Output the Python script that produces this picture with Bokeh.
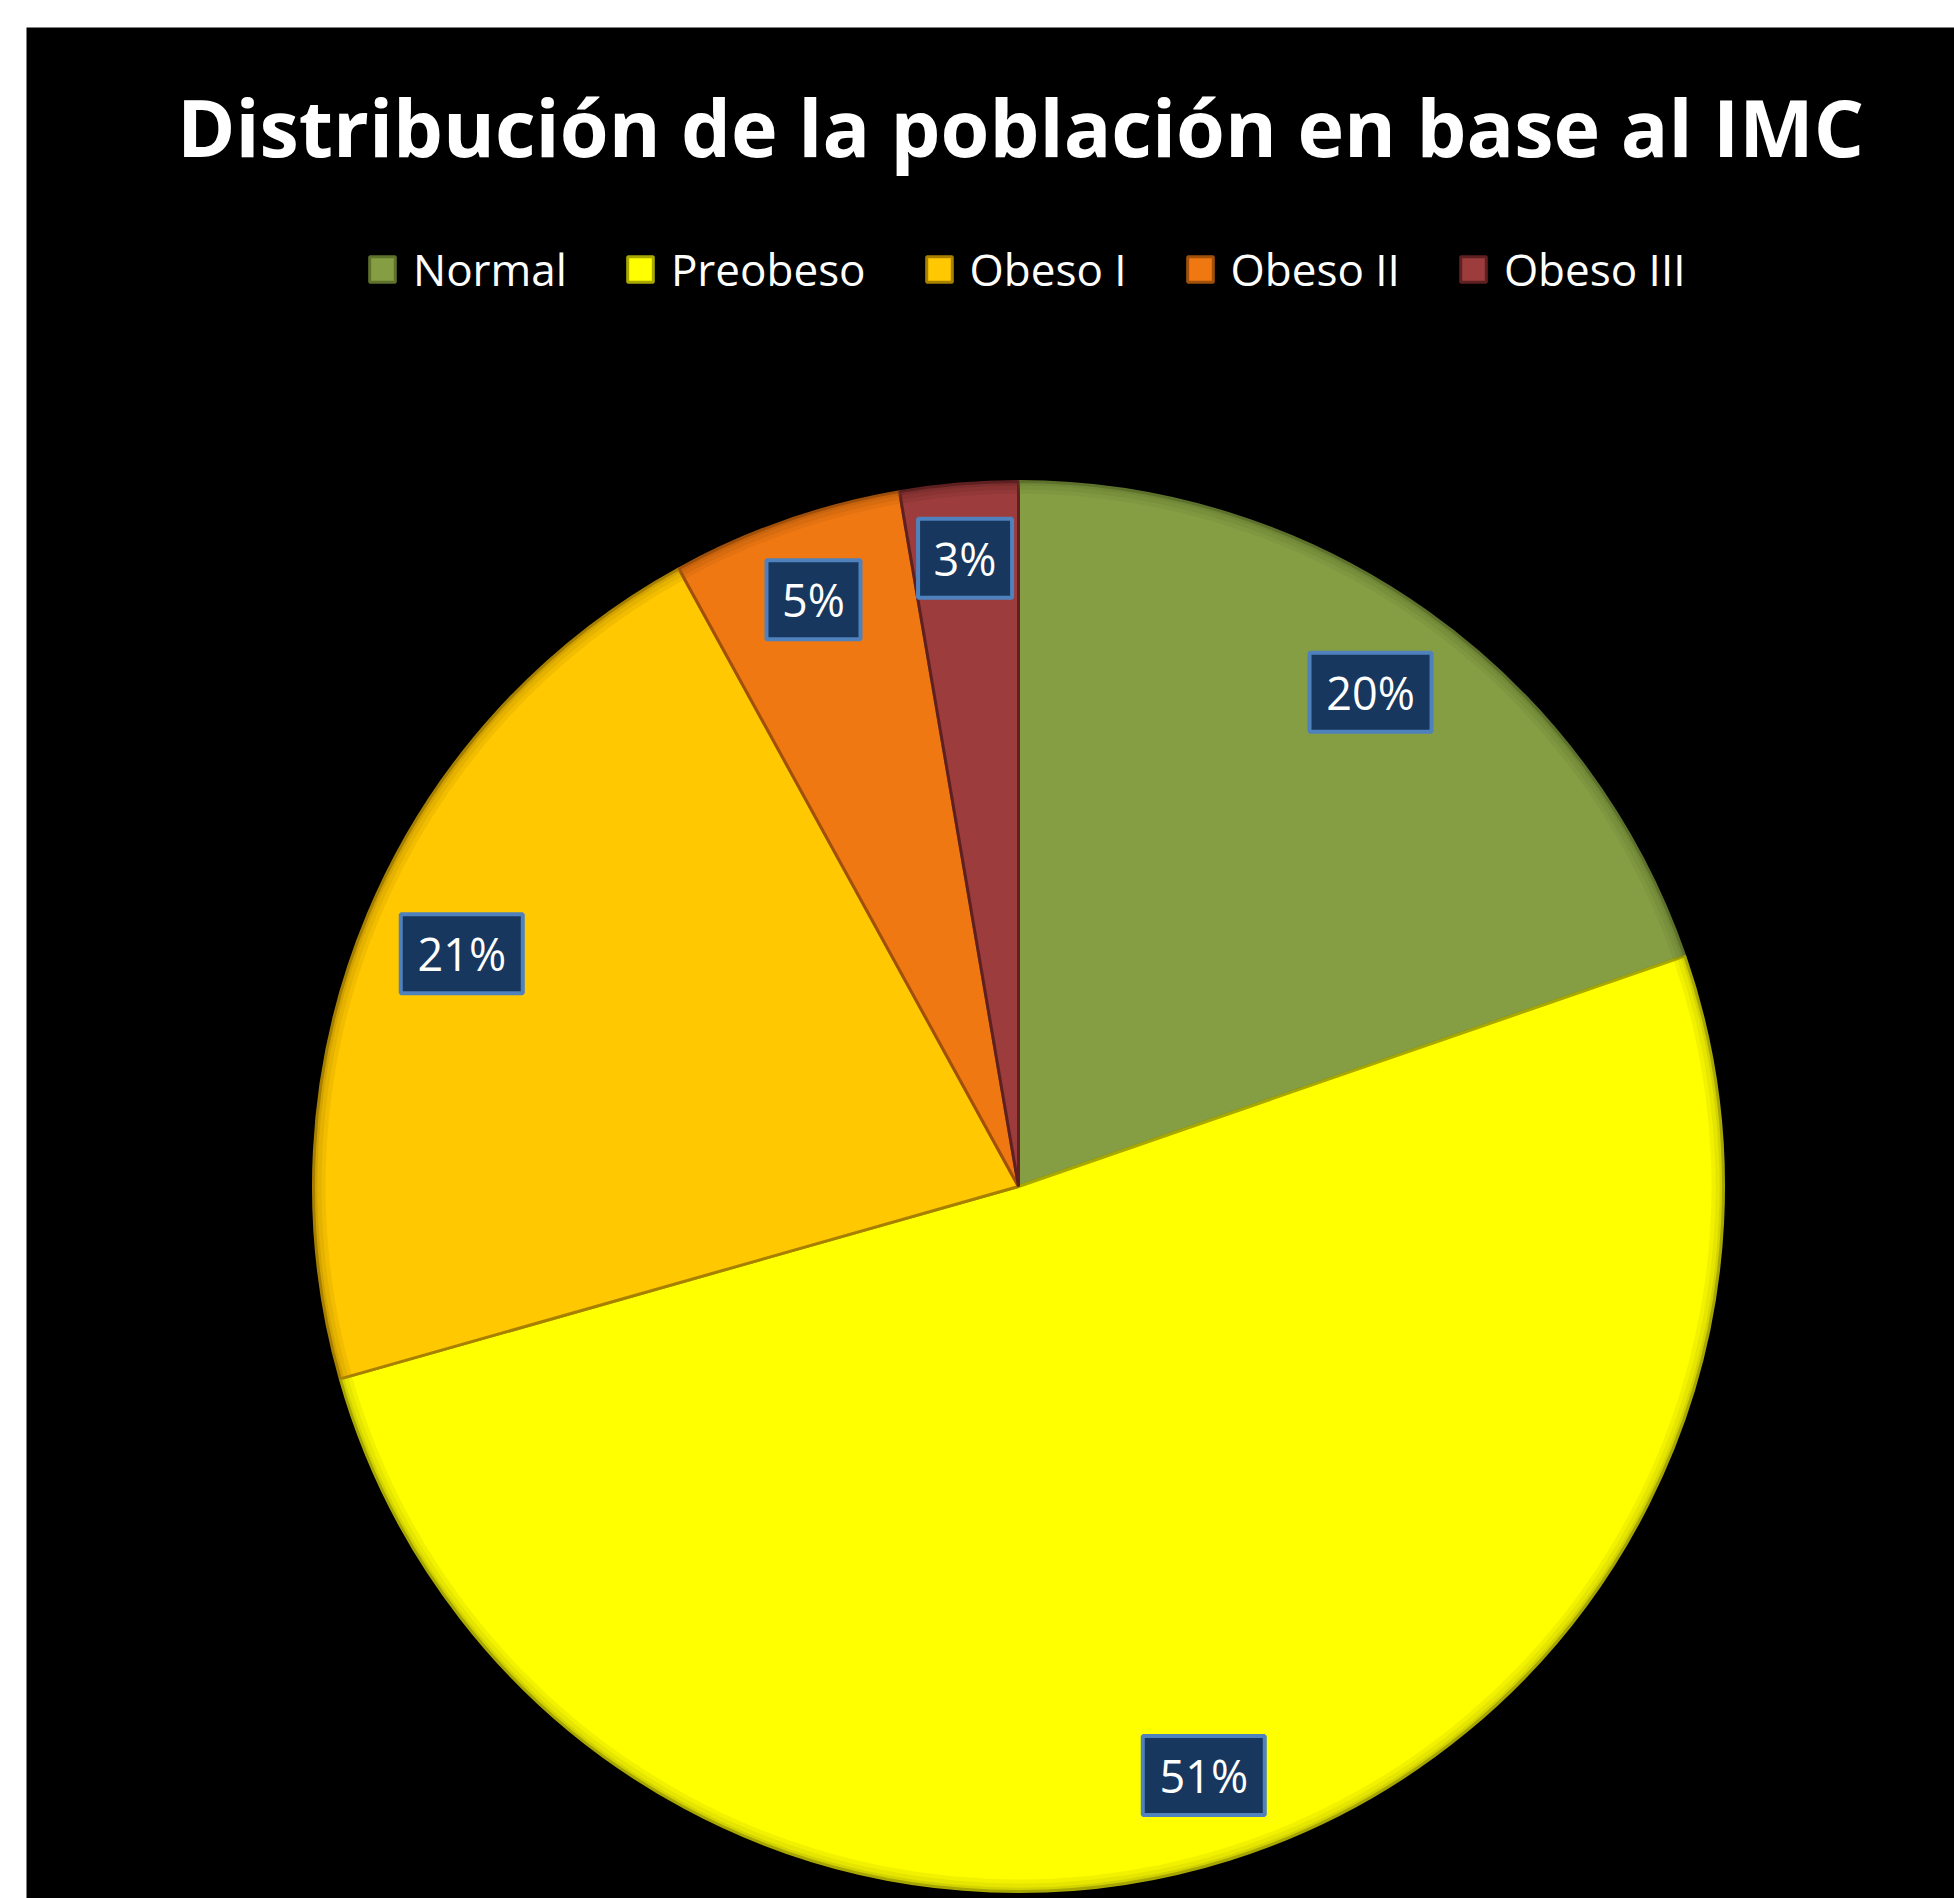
import math
from bokeh.plotting import figure
from bokeh.models import Range1d, ColumnDataSource, Legend, LegendItem, Label
from bokeh.core.properties import value
from bokeh.embed import file_html
from bokeh.resources import INLINE

# ---- data ----
categories = ["Normal", "Preobeso", "Obeso I", "Obeso II", "Obeso III"]
shares = [19.7, 50.9, 21.4, 5.3, 2.7]
colors = ["#859E44", "#FFFF00", "#FFC800", "#F07812", "#9C3C3C"]
edge_colors = ["#5E722C", "#A8A800", "#A88000", "#A0500A", "#5E2020"]
title_text = "Distribución de la población en base al IMC"

# ---- geometry (frame pixels, y up) ----
W, H = 1954, 1898
LEFT, TOP = 26, 27
FW, FH = W - LEFT, H - TOP
CX, CY, R = 992, 712, 705

total = sum(shares)
starts, ends, mids = [], [], []
acc = 0.0
for v in shares:
    a0 = math.pi / 2 - 2 * math.pi * acc / total
    acc += v
    a1 = math.pi / 2 - 2 * math.pi * acc / total
    starts.append(a0)
    ends.append(a1)
    mids.append((a0 + a1) / 2)

labels = [f"{round(v / total * 100)}%" for v in shares]
bw = [97 if len(t) == 2 else 125 for t in labels]
BH = 82
RHO = R - 28  # farthest box corner sits on this radius ("inside end")
lx, ly = [], []
for m, w in zip(mids, bw):
    ux, uy = math.cos(m), math.sin(m)
    cx_, cy_ = math.copysign(w / 2, ux), math.copysign(BH / 2, uy)
    uc = ux * cx_ + uy * cy_
    t = -uc + math.sqrt(uc * uc - (cx_ ** 2 + cy_ ** 2) + RHO ** 2)
    lx.append(CX + t * ux)
    ly.append(CY + t * uy)

src = ColumnDataSource(dict(cat=categories, start=starts, end=ends, color=colors,
                            edge=edge_colors, lx=lx, ly=ly, lab=labels,
                            bw=[w - 3 for w in bw]))

p = figure(width=W, height=H, output_backend="svg", toolbar_location=None,
           x_range=Range1d(0, FW), y_range=Range1d(0, FH),
           x_axis_location=None, y_axis_location=None,
           min_border_left=LEFT, min_border_top=TOP, min_border_right=0, min_border_bottom=0)
p.background_fill_color = "black"
p.border_fill_color = "white"
p.outline_line_color = None
p.grid.visible = False

wedges = p.wedge(x=CX, y=CY, radius=R, start_angle="start", end_angle="end",
                 direction="clock", fill_color="color", line_color="edge",
                 line_width=3, source=src)

# soft darker rim
for inner, alpha in [(R - 12, 0.15), (R - 8, 0.3), (R - 4, 0.5)]:
    p.annular_wedge(x=CX, y=CY, inner_radius=inner, outer_radius=inner + 4,
                    start_angle="start", end_angle="end", direction="clock",
                    fill_color="edge", fill_alpha=alpha, line_color=None, source=src)

# label boxes
p.rect(x="lx", y="ly", width="bw", height=BH - 3, width_units="screen", height_units="screen",
       fill_color="#17375E", line_color="#4F81BD", line_width=4, source=src)
p.text(x="lx", y="ly", text="lab", text_color="white", text_font=value("Open Sans"),
       text_font_size="45px", text_align="center", text_baseline="middle", source=src)

# title
p.add_layout(Label(x=994, y=1772, text=title_text,
                   x_units="data", y_units="data",
                   text_color="white", text_font="Open Sans", text_font_style="bold",
                   text_font_size="79px", text_align="center", text_baseline="alphabetic"))

# legend
items = [LegendItem(label=c, renderers=[wedges], index=i) for i, c in enumerate(categories)]
legend = Legend(items=items, orientation="horizontal", location=(340, 1599),
                background_fill_color="black", background_fill_alpha=1.0,
                border_line_color=None, padding=10, margin=0,
                glyph_width=32, glyph_height=32, label_height=32,
                label_standoff=15, spacing=57,
                label_text_color="white", label_text_font="Open Sans",
                label_text_font_size="44px")
p.add_layout(legend, "center")

open("out.html", "w").write(file_html(p, INLINE))
